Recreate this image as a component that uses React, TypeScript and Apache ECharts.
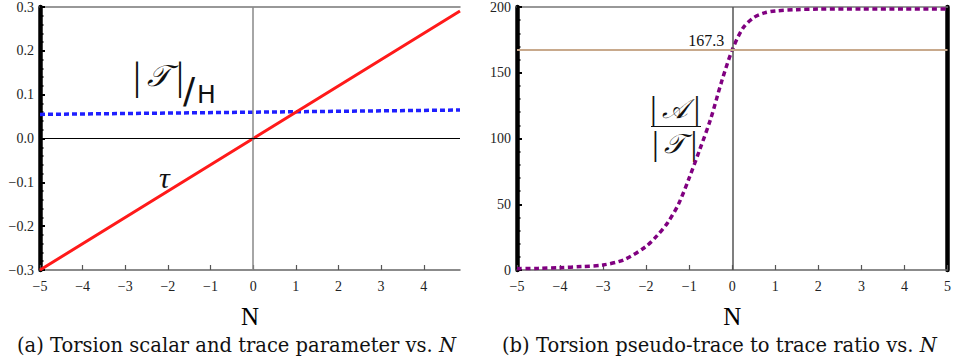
import React, { useEffect, useRef } from "react";
import * as echarts from "echarts";

// Panel (a): torsion scalar tau and |T|/H versus N
const tauN = [-5, 0, 4.85];
const tauVals = [-0.3, 0, 0.291];
const traceN = [-5, 0, 4.85];
const traceVals = [0.055, 0.06, 0.065];
const leftXTicks = [-5, -4, -3, -2, -1, 0, 1, 2, 3, 4];

// Panel (b): |A|/|T| ratio versus N
const ratioN = [-5, -4.5, -4, -3.5, -3, -2.5, -2, -1.75, -1.5, -1.25, -1, -0.75, -0.5, -0.25, 0, 0.25, 0.5, 0.75, 1, 1.5, 2, 3, 4, 5];
const ratioVals = [1.0, 1.3, 1.8, 2.6, 3.8, 8, 18, 26, 36, 50, 70, 92, 115, 143, 167.3, 184, 192, 195.5, 197, 198, 198.4, 198.5, 198.5, 198.5];
const refValue = 167.3;
const rightXTicks = [-5, -4, -3, -2, -1, 0, 1, 2, 3, 4, 5];

const SERIF = "Liberation Serif, DejaVu Serif, serif";
const CAPSERIF = "DejaVu Serif, Liberation Serif, serif";
const SANS = "DejaVu Sans, sans-serif";

const minus = (s: string) => s.replace("-", "\u2212");

export default function App() {
  const ref = useRef<HTMLDivElement>(null);
  useEffect(() => {
    document.body.style.margin = "0";
    const chart = echarts.init(ref.current!, null, { renderer: "svg" });
    const pair = (xs: number[], ys: number[]) => xs.map((x, i) => [x, ys[i]]);

    const yAxisBase = {
      axisLine: { show: true, onZero: false, lineStyle: { color: "#000", width: 4.5 } },
      axisTick: { show: true, inside: true, length: 5, lineStyle: { color: "#000", width: 2 } },
      minorTick: { show: true, splitNumber: 5, length: 3.5, lineStyle: { color: "#000", width: 1.5 } },
      splitLine: { show: false },
      axisLabel: { fontFamily: SERIF, fontSize: 14, color: "#222", margin: 6 },
    };
    const xAxisBase = (ticks: number[]) => ({
      type: "value" as const,
      interval: 1,
      axisLine: { show: true, onZero: false, lineStyle: { color: "#666", width: 1.5 } },
      axisTick: { show: true, inside: true, length: 5, customValues: ticks, lineStyle: { color: "#555", width: 1.2 } },
      splitLine: { show: false },
      axisLabel: {
        fontFamily: SERIF, fontSize: 14, color: "#222", margin: 9, customValues: ticks,
        formatter: (v: number) => minus(String(v)),
      },
      name: "N",
      nameLocation: "middle" as const,
      nameGap: 34,
      nameTextStyle: { fontFamily: SERIF, fontSize: 25, color: "#000" },
    });
    const topAxis = (grid: number, min: number, max: number) => ({
      type: "value" as const, gridIndex: grid, position: "top" as const, min, max,
      axisLine: { show: true, onZero: false, lineStyle: { color: "#777", width: 1.5 } },
      axisTick: { show: false }, axisLabel: { show: false }, splitLine: { show: false },
    });
    const bars = (glyph: string, barSize: number, glyphSize: number) => ({
      text: `{a||}{b|\u2009${glyph}\u2009}{a||}`,
      rich: {
        a: { fontSize: barSize, fontFamily: SERIF, fill: "#111" },
        b: { fontSize: glyphSize, fontFamily: CAPSERIF, fontStyle: "italic", fill: "#111" },
      },
    });
    const caption = (text: string) => ({
      text: `${text} {i|N}`,
      fontFamily: CAPSERIF, fontSize: 19.5, fill: "#111",
      rich: { i: { fontFamily: CAPSERIF, fontStyle: "italic", fontSize: 19.5, fill: "#111" } },
    });

    chart.setOption({
      animation: false,
      grid: [
        { left: 40, top: 5.5, width: 420, height: 264.5 },
        { left: 517, top: 3, width: 434, height: 267 },
      ],
      xAxis: [
        { ...xAxisBase(leftXTicks), gridIndex: 0, min: -5, max: 4.85 },
        topAxis(0, -5, 4.85),
        { ...xAxisBase(rightXTicks), gridIndex: 1, min: -5, max: 5 },
        topAxis(1, -5, 5),
      ],
      yAxis: [
        {
          ...yAxisBase, type: "value", gridIndex: 0, min: -0.3, max: 0.3, interval: 0.1,
          axisLabel: { ...yAxisBase.axisLabel, formatter: (v: number) => minus(v.toFixed(1)) },
        },
        { ...yAxisBase, type: "value", gridIndex: 1, min: 0, max: 200, interval: 50 },
        {
          type: "value", gridIndex: 1, position: "right", min: 0, max: 200,
          axisLine: { show: true, onZero: false, lineStyle: { color: "#000", width: 4.5 } },
          axisTick: { show: false }, axisLabel: { show: false }, splitLine: { show: false },
        },
      ],
      series: [
        {
          type: "line", xAxisIndex: 0, yAxisIndex: 0, data: [], silent: true,
          markLine: {
            symbol: "none", silent: true, label: { show: false },
            data: [
              { xAxis: 0, lineStyle: { color: "#888", width: 1.5, type: "solid" } },
              { yAxis: 0, lineStyle: { color: "#000", width: 1, type: "solid" } },
            ],
          },
        },
        {
          type: "line", xAxisIndex: 0, yAxisIndex: 0, data: pair(traceN, traceVals),
          showSymbol: false, lineStyle: { color: "#1f1fff", width: 3.5, type: [5, 3] },
        },
        {
          type: "line", xAxisIndex: 0, yAxisIndex: 0, data: pair(tauN, tauVals),
          showSymbol: false, lineStyle: { color: "#ff1a1a", width: 3 },
        },
        {
          type: "line", xAxisIndex: 2, yAxisIndex: 1, data: [], silent: true,
          markLine: {
            symbol: "none", silent: true, label: { show: false },
            data: [
              { xAxis: 0, lineStyle: { color: "#555", width: 1.5, type: "solid" } },
              { yAxis: refValue, lineStyle: { color: "#c8a98c", width: 2, type: "solid" } },
            ],
          },
          markPoint: {
            symbol: "circle", symbolSize: 0, silent: true,
            data: [{ coord: [0, refValue], value: refValue }],
            label: {
              show: true, position: "left", offset: [-4, -10], distance: 4,
              formatter: String(refValue), fontFamily: SERIF, fontSize: 16, color: "#111",
            },
          },
        },
        {
          type: "line", xAxisIndex: 2, yAxisIndex: 1, data: pair(ratioN, ratioVals),
          smooth: 0.3, showSymbol: false, lineStyle: { color: "#800080", width: 3.5, type: [5, 3.5] },
        },
      ],
      graphic: [
        { type: "text", left: 133, top: 55, style: bars("\uD835\uDCAF", 40, 30) },
        { type: "text", left: 183, top: 72, style: { text: "/", fontSize: 36, fontFamily: SANS, fill: "#111" } },
        { type: "text", left: 197, top: 82, style: { text: "H", fontSize: 25, fontFamily: SANS, fill: "#111" } },
        { type: "text", left: 159, top: 162, style: { text: "\u03C4", fontSize: 30, fontStyle: "italic", fontFamily: SERIF, fill: "#111" } },
        { type: "text", left: 650, top: 91, style: bars("\uD835\uDC9C", 34, 27) },
        { type: "line", shape: { x1: 651, y1: 126.5, x2: 701, y2: 126.5 }, style: { stroke: "#111", lineWidth: 1.2 } },
        { type: "text", left: 652, top: 126, style: bars("\uD835\uDCAF", 34, 27) },
        { type: "text", left: 17, top: 335, style: caption("(a) Torsion scalar and trace parameter vs.") },
        { type: "text", left: 502, top: 335, style: caption("(b) Torsion pseudo-trace to trace ratio vs.") },
      ],
    });
    return () => chart.dispose();
  }, []);
  return <div ref={ref} style={{ width: 954, height: 364 }} />;
}
